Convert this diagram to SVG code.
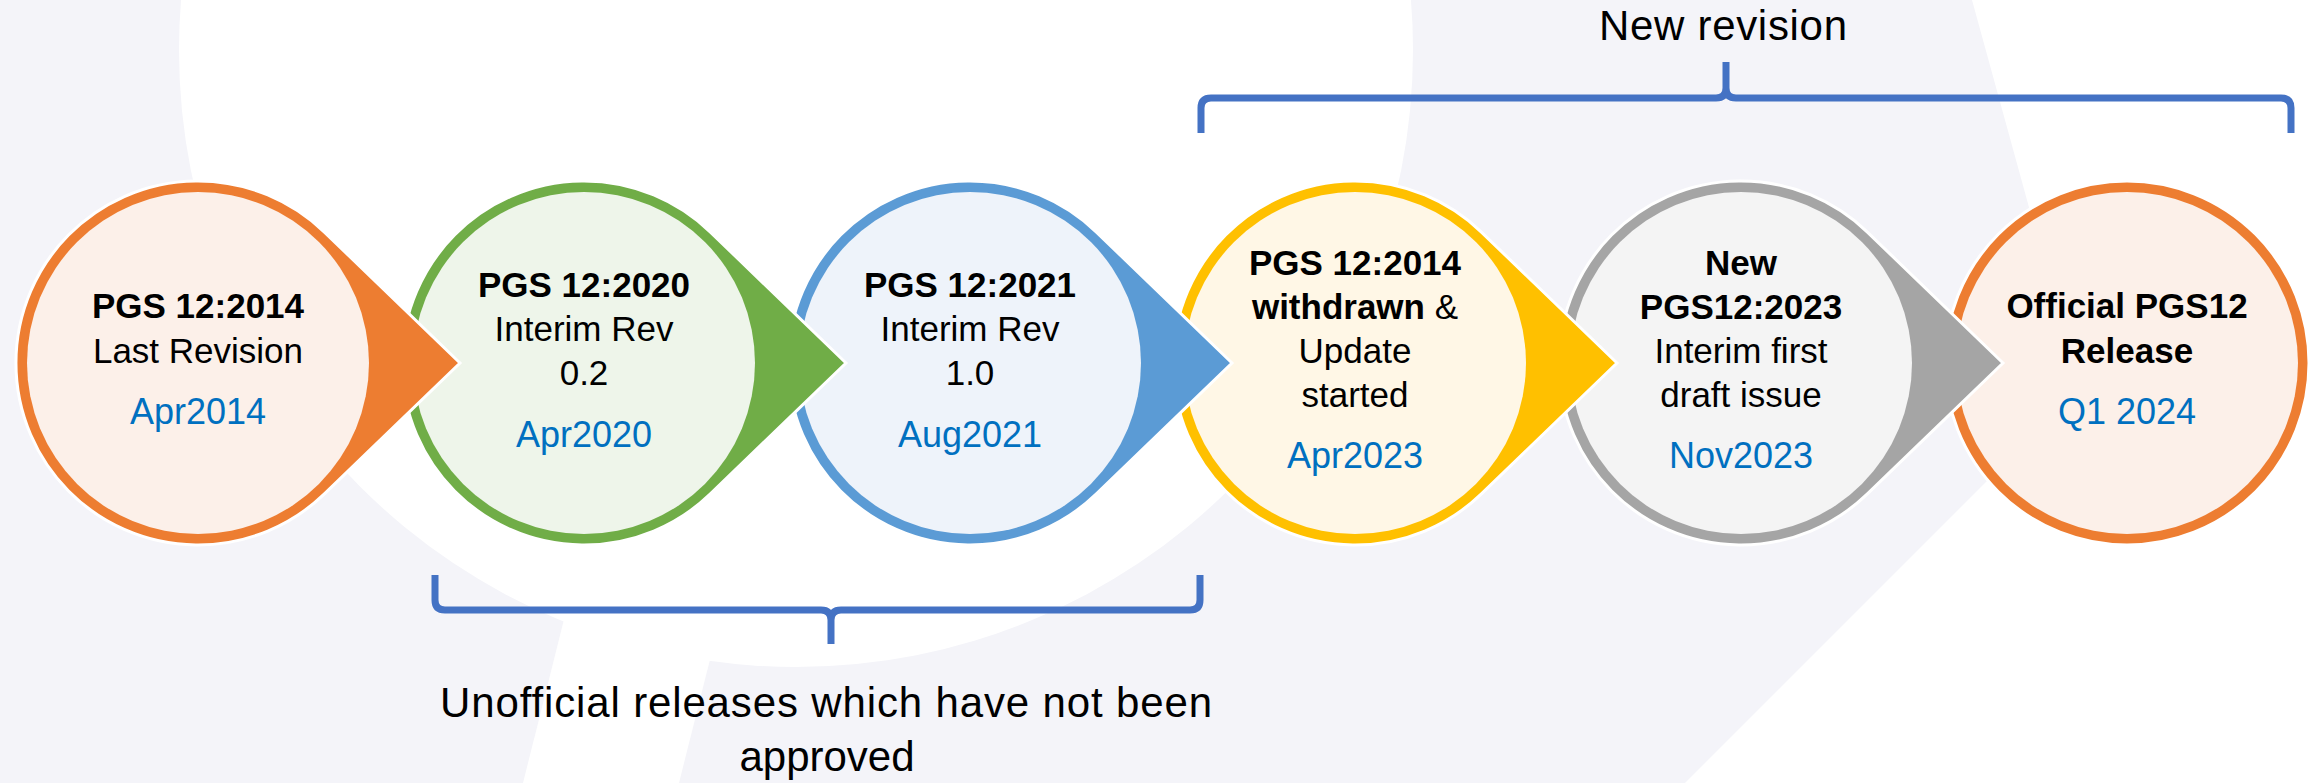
<svg xmlns="http://www.w3.org/2000/svg" width="2323" height="783" viewBox="0 0 2323 783">
<style>
  text { font-family: "Liberation Sans", Arial, sans-serif; fill: #000; text-anchor: middle; }
  .t { font-size: 35px; }
  .b { font-weight: bold; }
  .d { font-size: 36px; fill: #0070C0; }
  .lbl { font-size: 42px; }
  .drop { stroke: #FFFFFF; stroke-width: 3; }
  .brace { fill: none; stroke: #4472C4; stroke-width: 7; stroke-linejoin: round; }
</style>
<g id="background">
  <rect x="0" y="0" width="2323" height="783" fill="#F4F4F9"/>
  <circle cx="796" cy="50" r="617" fill="#FFFFFF"/>
  <polygon points="594,500 750,500 679,783 523,783" fill="#FFFFFF"/>
  <polygon points="1972,0 2323,0 2323,783 1685,783 2079,389" fill="#FFFFFF"/>
</g>
<g id="connectors">
  <path class="brace" d="M1201,133 L1201,108 Q1201,98 1211,98 L1716,98 Q1726,98 1726,88 L1726,62 M1726,88 Q1726,98 1736,98 L2281,98 Q2291,98 2291,108 L2291,133"/>
  <path class="brace" d="M435,575 L435,600 Q435,610 445,610 L821,610 Q831,610 831,620 L831,644 M831,620 Q831,610 841,610 L1190,610 Q1200,610 1200,600 L1200,575"/>
</g>
<g id="node6">
  <circle class="drop" cx="2127" cy="363" r="182" fill="#ED7D31"/>
  <circle cx="2127" cy="363" r="171" fill="#FCF0E9"/>
  <text class="t b" x="2127" y="318">Official PGS12</text>
  <text class="t b" x="2127" y="363">Release</text>
  <text class="d" x="2127" y="424">Q1 2024</text>
</g>
<g id="node5">
  <path class="drop" d="M2003,363 L1867.4,232.1 A182,182 0 1 0 1867.4,493.9 Z" fill="#A5A5A5"/>
  <circle cx="1741" cy="363" r="171" fill="#F4F4F4"/>
  <text class="t b" x="1741" y="275">New</text>
  <text class="t b" x="1741" y="319">PGS12:2023</text>
  <text class="t" x="1741" y="363">Interim first</text>
  <text class="t" x="1741" y="407">draft issue</text>
  <text class="d" x="1741" y="468">Nov2023</text>
</g>
<g id="node4">
  <path class="drop" d="M1617,363 L1481.4,232.1 A182,182 0 1 0 1481.4,493.9 Z" fill="#FFC000"/>
  <circle cx="1355" cy="363" r="171" fill="#FFF7E6"/>
  <text class="t b" x="1355" y="275">PGS 12:2014</text>
  <text class="t" x="1355" y="319"><tspan class="b">withdrawn</tspan> &amp;</text>
  <text class="t" x="1355" y="363">Update</text>
  <text class="t" x="1355" y="407">started</text>
  <text class="d" x="1355" y="468">Apr2023</text>
</g>
<g id="node3">
  <path class="drop" d="M1232,363 L1096.4,232.1 A182,182 0 1 0 1096.4,493.9 Z" fill="#5B9BD5"/>
  <circle cx="970" cy="363" r="171" fill="#EEF3FA"/>
  <text class="t b" x="970" y="297">PGS 12:2021</text>
  <text class="t" x="970" y="341">Interim Rev</text>
  <text class="t" x="970" y="385">1.0</text>
  <text class="d" x="970" y="447">Aug2021</text>
</g>
<g id="node2">
  <path class="drop" d="M846,363 L710.4,232.1 A182,182 0 1 0 710.4,493.9 Z" fill="#70AD47"/>
  <circle cx="584" cy="363" r="171" fill="#EEF5EA"/>
  <text class="t b" x="584" y="297">PGS 12:2020</text>
  <text class="t" x="584" y="341">Interim Rev</text>
  <text class="t" x="584" y="385">0.2</text>
  <text class="d" x="584" y="447">Apr2020</text>
</g>
<g id="node1">
  <path class="drop" d="M460,363 L324.4,232.1 A182,182 0 1 0 324.4,493.9 Z" fill="#ED7D31"/>
  <circle cx="198" cy="363" r="171" fill="#FCF0E9"/>
  <text class="t b" x="198" y="318">PGS 12:2014</text>
  <text class="t" x="198" y="363">Last Revision</text>
  <text class="d" x="198" y="424">Apr2014</text>
</g>
<g id="labels">
  <text class="lbl" x="1723" y="40" textLength="248">New revision</text>
  <text class="lbl" x="826" y="717" textLength="772">Unofficial releases which have not been</text>
  <text class="lbl" x="827" y="771">approved</text>
</g>
</svg>
